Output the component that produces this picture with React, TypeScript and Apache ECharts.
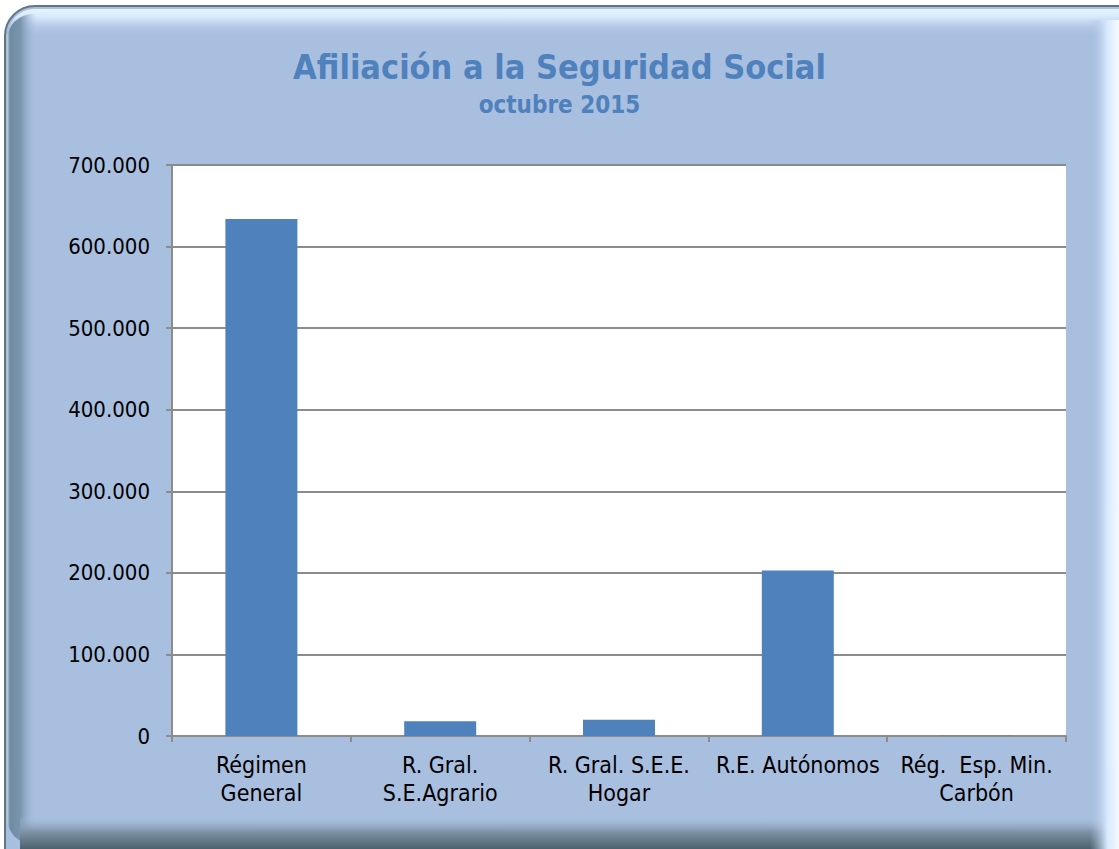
import React, { useEffect, useRef } from "react";
import * as echarts from "echarts";

const categories = [
  "Régimen\nGeneral",
  "R. Gral.\nS.E.Agrario",
  "R. Gral. S.E.E.\nHogar",
  "R.E. Autónomos",
  "Rég.  Esp. Min.\nCarbón",
];
const afiliados = [633700, 18100, 19800, 202800, 400];
const yTicks = { min: 0, max: 700000, interval: 100000 };
const titleText = "Afiliación a la Seguridad Social";
const subtitleText = "octubre 2015";

const FONT = "'DejaVu Sans Condensed', 'DejaVu Sans', sans-serif";
const BASE = "#A9BFE0";

function fmt(v: number): string {
  return String(v).replace(/\B(?=(\d{3})+(?!\d))/g, ".");
}

export default function App() {
  const ref = useRef<HTMLDivElement>(null);
  useEffect(() => {
    if (!ref.current) return;
    const chart = echarts.init(ref.current, null, { renderer: "svg" });
    const lin = (x2: number, y2: number, stops: [number, string][]) =>
      new echarts.graphic.LinearGradient(0, 0, x2, y2, stops.map(([offset, color]) => ({ offset, color })));
    chart.setOption({
      animation: false,
      backgroundColor: "#ffffff",
      title: {
        text: titleText,
        subtext: subtitleText,
        left: "center",
        top: 45,
        itemGap: 9,
        textStyle: { fontFamily: FONT, fontWeight: "bold", fontSize: 34, color: "#4F81BD" },
        subtextStyle: { fontFamily: FONT, fontWeight: "bold", fontSize: 24, color: "#4F81BD" },
      },
      graphic: [
        {
          type: "rect", z: -10, silent: true,
          shape: { x: 5, y: 6, width: 1150, height: 880, r: 30 },
          style: { fill: BASE, stroke: "#5E7785", lineWidth: 2 },
        },
        {
          type: "rect", z: -9, silent: true,
          shape: { x: 8, y: 9, width: 1140, height: 28, r: [26, 26, 0, 0] },
          style: { fill: lin(0, 1, [[0, "#E6F4FF"], [0.3, "#D6E8FA"], [1, "rgba(169,191,224,0)"]]) },
        },
        {
          type: "rect", z: -9, silent: true,
          shape: { x: 7, y: 14, width: 30, height: 830, r: [26, 0, 0, 26] },
          style: { fill: lin(1, 0, [[0, "#C4D4E0"], [0.1, "#6E8BA1"], [0.45, "#7995AE"], [1, "rgba(169,191,224,0)"]]) },
        },
        {
          type: "rect", z: -9, silent: true,
          shape: { x: 20, y: 815, width: 1100, height: 34 },
          style: { fill: lin(0, 1, [[0, "rgba(169,191,224,0)"], [0.5, "#7D92A4"], [1, "#4B626D"]]) },
        },
        {
          type: "rect", z: -9, silent: true,
          shape: { x: 1090, y: 20, width: 29, height: 829 },
          style: { fill: lin(1, 0, [[0, "rgba(169,191,224,0)"], [0.6, "#D8EAFD"], [1, "#F4FAFF"]]) },
        },
      ],
      grid: {
        left: 172,
        right: 53,
        top: 165,
        bottom: 113,
        show: true,
        backgroundColor: "#ffffff",
        borderWidth: 0,
        containLabel: false,
      },
      xAxis: {
        type: "category",
        data: categories,
        boundaryGap: true,
        axisLine: { show: true, lineStyle: { color: "#8C8C8C", width: 2 } },
        axisTick: { show: true, alignWithLabel: false, length: 6, lineStyle: { color: "#8C8C8C", width: 2 } },
        axisLabel: {
          interval: 0,
          margin: 15,
          fontFamily: FONT,
          fontSize: 23,
          lineHeight: 28,
          color: "#000000",
        },
      },
      yAxis: {
        type: "value",
        min: yTicks.min,
        max: yTicks.max,
        interval: yTicks.interval,
        axisLine: { show: true, lineStyle: { color: "#8C8C8C", width: 2 } },
        axisTick: { show: true, length: 6, lineStyle: { color: "#8C8C8C", width: 2 } },
        splitLine: { show: true, lineStyle: { color: "#8C8C8C", width: 2 } },
        axisLabel: {
          margin: 22,
          fontFamily: FONT,
          fontSize: 22,
          color: "#000000",
          formatter: (v: number) => fmt(v),
        },
      },
      series: [
        {
          type: "bar",
          data: afiliados,
          barWidth: 72,
          itemStyle: { color: "#4F81BD" },
        },
      ],
    });
    return () => chart.dispose();
  }, []);
  return (
    <div
      ref={ref}
      style={{ position: "fixed", left: 0, top: 0, width: 1119, height: 849 }}
    />
  );
}
